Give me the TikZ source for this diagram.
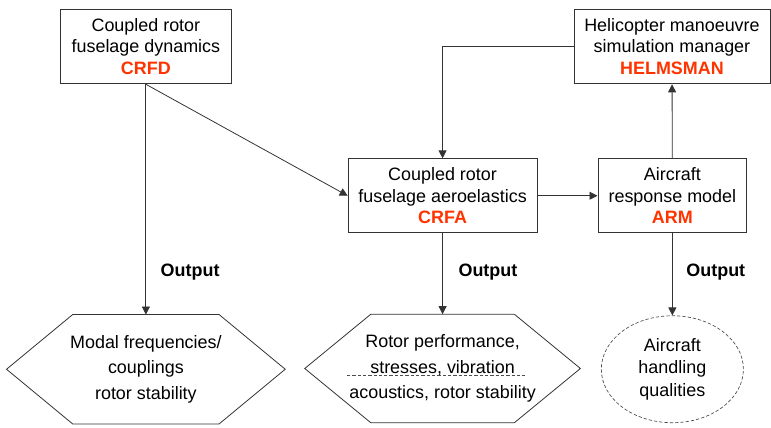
\documentclass[tikz,border=0pt]{standalone}
\usepackage{fontspec}
\setmainfont{Liberation Sans}
\usepackage{tikz}
\usetikzlibrary{shapes}
\usetikzlibrary{positioning}
\usetikzlibrary{arrows.meta}
\definecolor{tagred}{HTML}{FF3300}
\newcommand{\codename}[1]{{\color{tagred}\bfseries #1}}
\tikzset{
    mybox/.style = {rectangle, draw=black!80, line width=0.6pt, align=center, inner sep=2pt},
    myhex/.style = {rectangle, align=center, inner sep=2pt},
    hexline/.style = {draw=black!80, line width=0.6pt, line join=miter},
    myell/.style = {ellipse, draw=black!70, line width=0.5pt, dash pattern=on 2.5pt off 1.5pt, align=center, inner sep=1pt},
    edgen/.style = {-{Triangle[length=6pt,width=6pt]}, line width=0.6pt, draw=black!80},
    sepline/.style = {line width=0.5pt, draw=black!70, dash pattern=on 2.5pt off 1.5pt}, % divider
    outlbl/.style = {font=\bfseries},
    every picture/.style={font issue=\fontsize{13.5}{16.2}},
    font issue/.style={execute at begin picture={#1\selectfont}
  }
}
\begin{document}
\begin{tikzpicture}[scale=1.00]
\useasboundingbox (0, 0) rectangle (20.40, 11.32);
%
\node[mybox, minimum width=4.50cm, minimum height=1.98cm] at (3.86, 10.09) (crfd) {Coupled rotor\\fuselage dynamics\\\codename{CRFD}};
\node[mybox, minimum width=5.19cm, minimum height=1.98cm] at (17.78, 10.09) (helm) {Helicopter manoeuvre\\simulation manager\\\codename{HELMSMAN}};
\node[mybox, minimum width=5.00cm, minimum height=1.96cm] at (11.71, 6.14) (crfa) {Coupled rotor\\fuselage aeroelastics\\\codename{CRFA}};
\node[mybox, minimum width=3.94cm, minimum height=1.96cm] at (17.79, 6.14) (arm) {Aircraft\\response model\\\codename{ARM}};
%
\node[myhex, minimum width=7.36cm, minimum height=2.88cm] at (3.86, 1.55) (modal) {Modal frequencies/\\[3pt]couplings\\[3pt]rotor stability};
\node[myhex, minimum width=7.28cm, minimum height=2.86cm] at (11.71, 1.57) (perf) {Rotor performance,\\[3pt]stresses, vibration\\[3pt]acoustics, rotor stability};
\node[myell, minimum width=3.76cm, minimum height=2.83cm] at (17.79, 1.55) (handq) {Aircraft\\[1pt]handling\\[1pt]qualities};
%
\foreach \n in {modal, perf} {
  \draw[hexline] (\n.west) -- ([xshift=1.75cm]\n.north west) -- ([xshift=-1.75cm]\n.north east)
    -- (\n.east) -- ([xshift=-1.75cm]\n.south east) -- ([xshift=1.75cm]\n.south west) -- cycle;
}
%
\node[outlbl] at (5.03, 4.13) (outa) {Output};
\node[outlbl] at (12.91, 4.13) (outb) {Output};
\node[outlbl] at (18.94, 4.13) (outc) {Output};
%
\draw[edgen] (crfd) -- (modal);
\draw[edgen] (crfd.south) -- (crfa.west);
\draw[edgen] (helm.west) -| (crfa.north);
\draw[edgen] (crfa) -- (arm);
\draw[edgen] (arm) -- (helm);
\draw[edgen] (crfa) -- (perf);
\draw[edgen] (arm) -- (handq);
%
\coordinate (sepl) at ([xshift=-2.53cm, yshift=-0.19cm]perf.center);
\coordinate (sepr) at ([xshift=2.18cm, yshift=-0.19cm]perf.center);
\draw[sepline] (sepl) -- (sepr);

\end{tikzpicture}
\end{document}
